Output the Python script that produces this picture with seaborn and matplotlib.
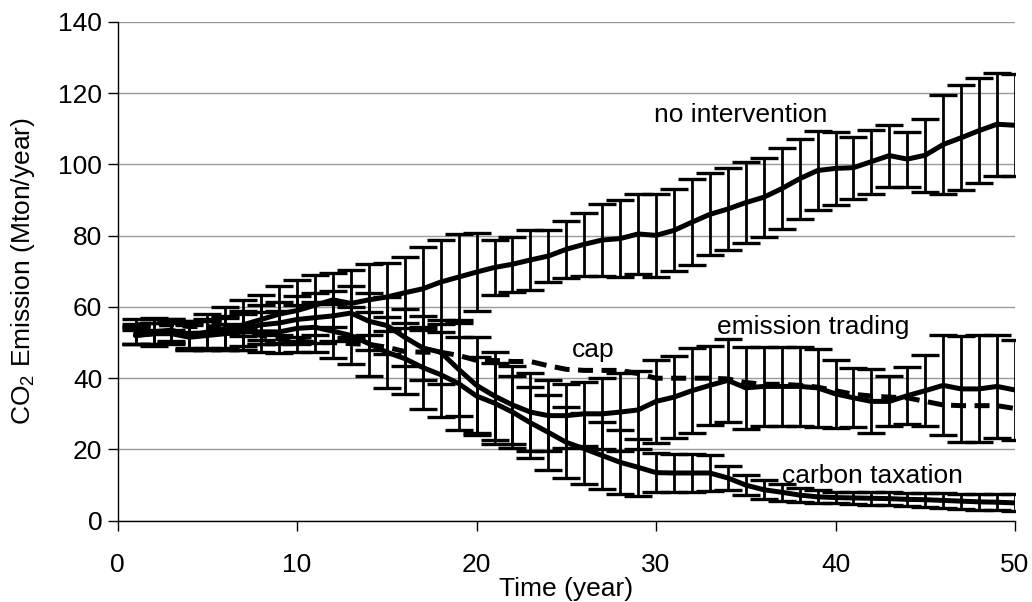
import numpy as np
import pandas as pd
import matplotlib
matplotlib.use("Agg")
import matplotlib.pyplot as plt
import seaborn as sns

years = list(range(1, 51))

# mean emission per scenario (Mton/year)
no_intervention = [52.5, 53, 53.5, 52, 53, 54, 55, 56.5, 58, 59,
                   60.5, 62, 61, 62, 62.8, 64, 65.1, 67, 68.4, 69.8,
                   71.1, 72, 73.2, 74.3, 76.2, 77.6, 78.8, 79.2, 80.5, 80.1,
                   81.5, 83.8, 86, 87.5, 89.3, 90.8, 93.2, 96, 98.3, 98.9,
                   99.1, 100.8, 102.5, 101.5, 102.6, 105.6, 107.5, 109.5, 111.3, 111]
emission_trading = [52, 52.5, 53, 52, 52.5, 53, 54, 55, 55.5, 56.5,
                    57, 57.5, 58.3, 56, 54.8, 51.5, 48.5, 47.3, 42.5, 38,
                    35, 32.5, 30.5, 29.5, 29.5, 30, 30, 30.5, 31.1, 33.5,
                    34.7, 36.5, 38, 39.4, 37.3, 37.7, 37.7, 37.7, 37.3, 35.6,
                    34.5, 33.5, 33.5, 35.1, 36.5, 38, 37, 37, 37.7, 36.7]
carbon_taxation = [52, 52.5, 52.5, 51.5, 52, 52.5, 53, 53, 53, 54,
                   54.3, 53.2, 52, 49.7, 47.3, 45.5, 43, 41, 38.5, 35,
                   33, 30.5, 27.5, 24.8, 22, 20.2, 18.3, 16.4, 15, 13.5,
                   13.4, 13.4, 13.4, 12, 10, 8.7, 8, 7.2, 6.7, 6.5,
                   6.4, 6.3, 6.2, 6.0, 5.9, 5.7, 5.5, 5.3, 5.2, 5.0]
cap = [55, 55, 55, 54.5, 54.5, 54, 53, 52, 51, 50.5,
       50, 50, 49.7, 49.5, 48.7, 47.5, 47.3, 47.3, 46.4, 45,
       45, 44.7, 44.7, 43.5, 42.5, 42.2, 42.2, 42.2, 41.3, 40,
       40, 40, 40, 39.8, 38.8, 38.3, 38.3, 38, 37.5, 36.5,
       35.5, 35, 34.7, 34.5, 33.5, 32.5, 32.3, 32.3, 32.3, 31.5]

# error bar half-widths (0 = no bar drawn)
no_intervention_err = [2.8, 4, 3, 4, 5, 6, 7, 7, 8, 8.5,
                       8.5, 7.5, 9.5, 10, 9.5, 10, 11.7, 11.7, 12, 11,
                       7.7, 7.7, 8.5, 7.3, 8, 8.8, 10, 10.8, 11.2, 11.7,
                       11.5, 12, 11.5, 11.6, 11.3, 11.1, 11.3, 11.2, 11.2, 10.3,
                       8.7, 9, 8.7, 7.7, 10.3, 13.8, 14.7, 14.7, 14.5, 14.3]
emission_trading_err = [2.5, 3, 3, 3.5, 4, 4.5, 5, 5.5, 6, 6.5,
                        7, 7, 7.5, 8, 8, 8, 9, 9, 13, 13.5,
                        12.3, 11, 11, 10, 9, 9, 10, 11, 11, 11.7,
                        11.5, 12, 11, 11.6, 11.5, 11, 11, 11, 11, 9.6,
                        8.3, 9, 7, 8, 10, 14, 14.8, 15, 14.5, 14]
carbon_taxation_err = [2.5, 3, 3, 3.5, 4, 4.5, 5, 5.5, 6, 6.5,
                       7, 7.5, 8, 9, 10, 10, 11.5, 12, 13, 11,
                       11.4, 10, 10, 10.5, 10, 10, 9.5, 9, 8, 5.4,
                       5.4, 5.4, 5, 3.3, 2.8, 2.6, 2.4, 2, 1.8, 1.6,
                       1.8, 1.8, 1.9, 1.9, 2, 2, 2.1, 2.2, 2.3, 2.4]
cap_err = [1.5, 1.5, 1.5, 1.5, 1.5, 1.2, 1.2, 1.2, 1, 1,
           0, 0, 0, 0, 0, 0, 0, 0, 0, 0,
           0, 0, 0, 0, 0, 0, 0, 0, 0, 0,
           0, 0, 0, 0, 0, 0, 0, 0, 0, 0,
           0, 0, 0, 0, 0, 0, 0, 0, 0, 0]

scenarios = ["no intervention", "emission trading", "carbon taxation", "cap"]
means = [no_intervention, emission_trading, carbon_taxation, cap]
errs = [no_intervention_err, emission_trading_err, carbon_taxation_err, cap_err]

df = pd.concat([pd.DataFrame({"year": years, "emission": m, "err": e, "scenario": s})
                for s, m, e in zip(scenarios, means, errs)], ignore_index=True)

sns.set_style("white")
plt.rcParams["font.family"] = ["Liberation Sans", "DejaVu Sans"]
plt.rcParams["mathtext.default"] = "regular"
plt.rcParams["text.color"] = "black"
plt.rcParams["axes.labelcolor"] = "black"
plt.rcParams["xtick.color"] = "black"
plt.rcParams["ytick.color"] = "black"

fig, ax = plt.subplots(figsize=(10.32, 6.02), dpi=100)
fig.subplots_adjust(left=0.114, right=0.9835, top=0.9635, bottom=0.135)

for s in scenarios:
    d = df[(df["scenario"] == s) & (df["err"] > 0)]
    ax.errorbar(d["year"], d["emission"], yerr=d["err"], fmt="none", ecolor="black",
                elinewidth=2, capsize=10, capthick=2.4, zorder=2)

sns.lineplot(data=df, x="year", y="emission", hue="scenario", style="scenario",
             palette={s: "black" for s in scenarios},
             dashes={"no intervention": "", "emission trading": "",
                     "carbon taxation": "", "cap": (3, 1.7)},
             linewidth=3.6, legend=False, ax=ax, zorder=3)

ax.set_xlim(0, 50)
ax.set_ylim(0, 140)
ax.set_xticks(range(0, 51, 10))
ax.set_yticks(range(0, 141, 20))
ax.yaxis.grid(True, color="#9a9a9a", linewidth=1)
ax.xaxis.grid(False)
sns.despine(ax=ax)
for sp in ["left", "bottom"]:
    ax.spines[sp].set_color("black")
    ax.spines[sp].set_linewidth(1)

fs = 19
ax.tick_params(axis="y", direction="out", length=7, width=1, pad=4,
               labelsize=fs, left=True)
ax.tick_params(axis="x", direction="out", length=7, width=1, pad=16,
               labelsize=fs, bottom=True)

ax.set_xlabel("Time (year)", fontsize=fs)
ax.set_ylabel("CO$_2$ Emission (Mton/year)", fontsize=fs)
ax.xaxis.set_label_coords(0.5, -0.112)
ax.yaxis.set_label_coords(-0.09, 0.5)

ax.text(29.9, 113.9, "no intervention", fontsize=fs, va="center")
ax.text(33.4, 54.3, "emission trading", fontsize=fs, va="center")
ax.text(25.3, 47.8, "cap", fontsize=fs, va="center")
ax.text(37.0, 12.6, "carbon taxation", fontsize=fs, va="center")

fig.savefig("out.png", dpi=100, facecolor="white")
